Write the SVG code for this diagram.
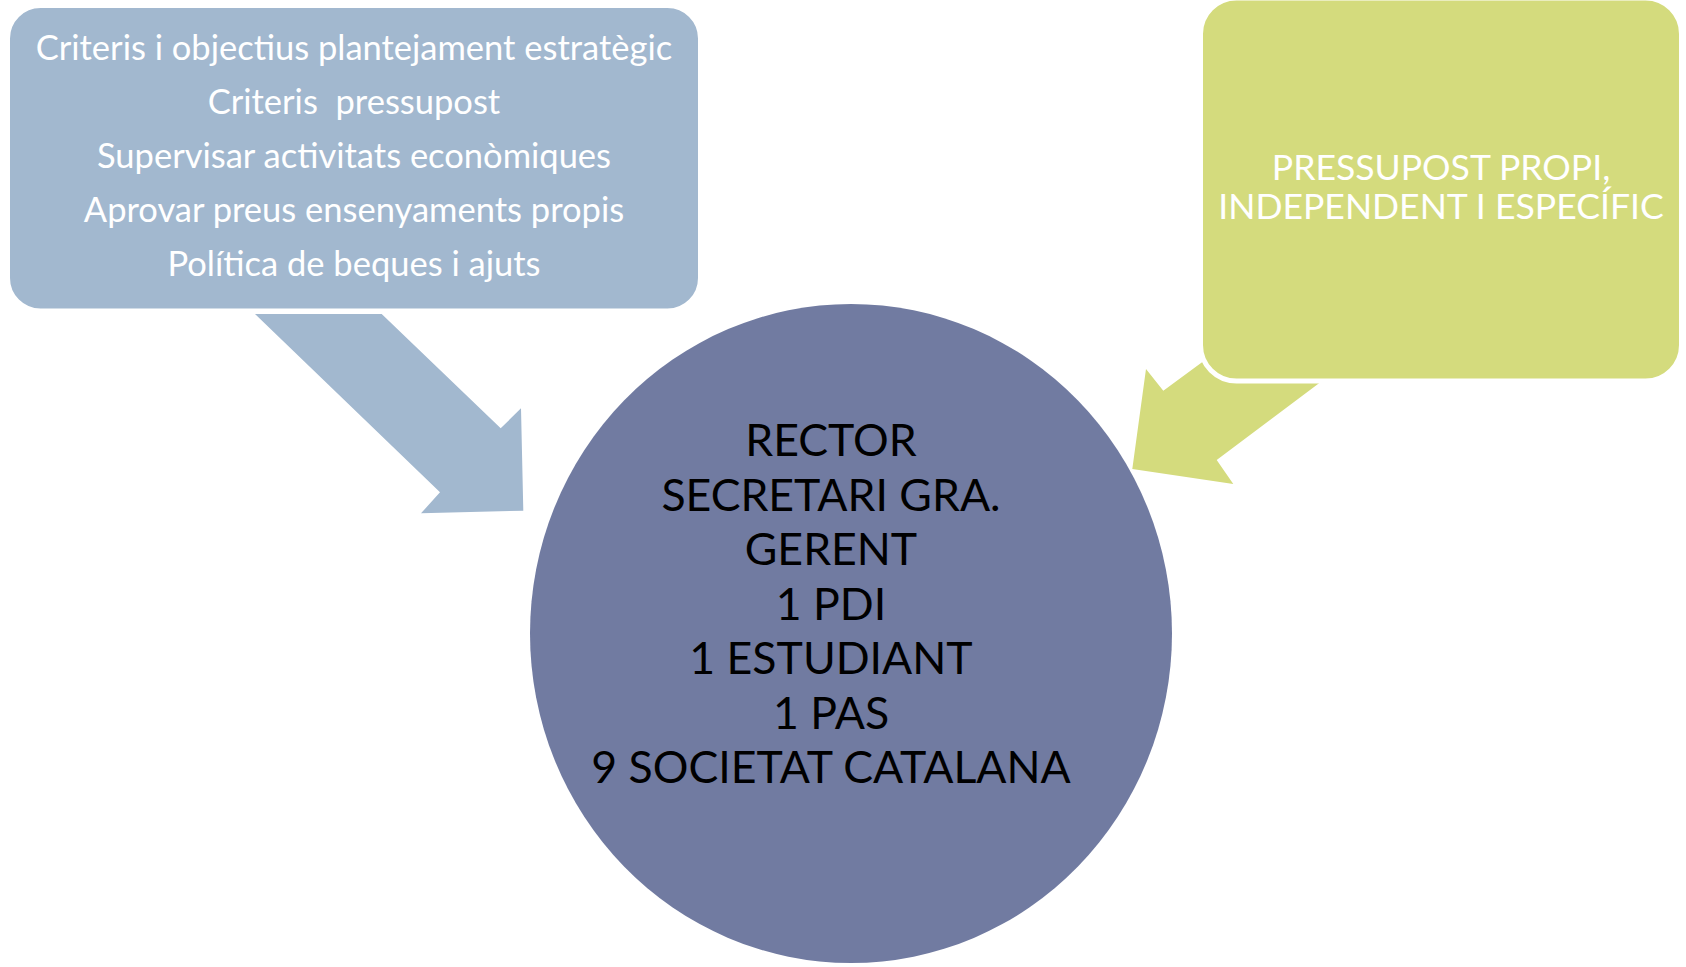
<svg xmlns="http://www.w3.org/2000/svg" width="1686" height="967" viewBox="0 0 1686 967">
<style>
.blue{fill:#A2B8CF}
.green{fill:#D4DB7D}
.circ{fill:#717BA1}
.t{font-family:Lato,"Open Sans","Liberation Sans",sans-serif;text-anchor:middle;white-space:pre}
.w{fill:#FFFFFF}
.k{fill:#000000}
</style>
<rect width="1686" height="967" fill="#FFFFFF"/>
<g id="connectors">
<polygon class="blue" points="255,314 381.7,314 500.7,428.3 521,408.3 523.3,510.7 421,513.3 440,492.3"/>
<polygon class="green" points="1280,305 1163.3,390.7 1146,369 1132.3,469 1233.3,484 1216.7,460 1390,330"/>
</g>
<g id="node-left">
<rect class="blue" x="8.5" y="6.5" width="691" height="303.5" rx="32" stroke="#FFFFFF" stroke-width="3"/>
<text class="t w" font-size="34.5" xml:space="preserve"><tspan x="354" y="60">Criteris i objectius plantejament estratègic</tspan><tspan x="354" y="114">Criteris  pressupost</tspan><tspan x="354" y="168">Supervisar activitats econòmiques</tspan><tspan x="354" y="222">Aprovar preus ensenyaments propis</tspan><tspan x="354" y="276">Política de beques i ajuts</tspan></text>
</g>
<g id="node-right">
<rect class="green" x="1200.5" y="-2" width="481" height="383" rx="36" stroke="#FFFFFF" stroke-width="5"/>
<text class="t w" font-size="35.6"><tspan x="1441" y="180">PRESSUPOST PROPI,</tspan><tspan x="1441" y="219">INDEPENDENT I ESPECÍFIC</tspan></text>
</g>
<g id="node-center">
<ellipse class="circ" cx="851" cy="633.5" rx="321" ry="329.5"/>
<text class="t k" font-size="44.6"><tspan x="831" y="456">RECTOR</tspan><tspan x="831" y="510.5">SECRETARI GRA.</tspan><tspan x="831" y="565">GERENT</tspan><tspan x="831" y="619.5">1 PDI</tspan><tspan x="831" y="674">1 ESTUDIANT</tspan><tspan x="831" y="728.5">1 PAS</tspan><tspan x="831" y="783">9 SOCIETAT CATALANA</tspan></text>
</g>
</svg>
